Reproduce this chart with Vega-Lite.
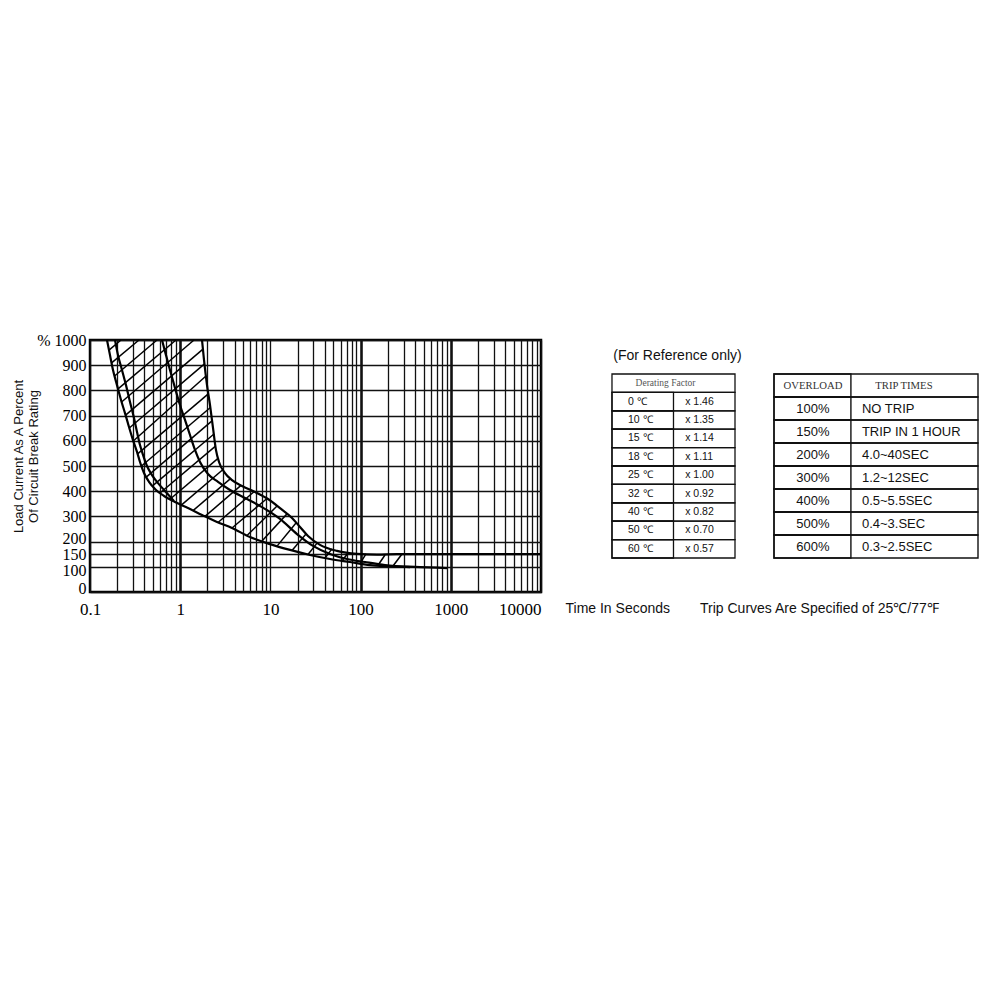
{
  "$schema": "https://vega.github.io/schema/vega-lite/v6.json",
  "background": "white",
  "padding": {"left": 10, "top": 330, "right": 5, "bottom": 5},
  "bounds": "flush",
  "center": true,
  "spacing": 39,
  "config": {
    "view": {"stroke": null},
    "font": "Liberation Sans",
    "title": {"fontWeight": "normal", "font": "Liberation Sans", "color": "#111"}
  },
  "datasets": {
    "curves": [
      {"curve": "A", "i": 0, "t": 0.1543, "v": 1000},
      {"curve": "A", "i": 1, "t": 0.1666, "v": 940},
      {"curve": "A", "i": 2, "t": 0.1799, "v": 881},
      {"curve": "A", "i": 3, "t": 0.1992, "v": 821},
      {"curve": "A", "i": 4, "t": 0.2207, "v": 762},
      {"curve": "A", "i": 5, "t": 0.2443, "v": 710},
      {"curve": "A", "i": 6, "t": 0.2706, "v": 655},
      {"curve": "A", "i": 7, "t": 0.2997, "v": 603},
      {"curve": "A", "i": 8, "t": 0.332, "v": 556},
      {"curve": "A", "i": 9, "t": 0.3584, "v": 516},
      {"curve": "A", "i": 10, "t": 0.3969, "v": 472},
      {"curve": "A", "i": 11, "t": 0.4509, "v": 437},
      {"curve": "A", "i": 12, "t": 0.5391, "v": 405},
      {"curve": "A", "i": 13, "t": 0.6612, "v": 381},
      {"curve": "A", "i": 14, "t": 0.8757, "v": 357},
      {"curve": "A", "i": 15, "t": 1.2205, "v": 333},
      {"curve": "A", "i": 16, "t": 1.745, "v": 306},
      {"curve": "A", "i": 17, "t": 2.559, "v": 278},
      {"curve": "A", "i": 18, "t": 3.752, "v": 254},
      {"curve": "A", "i": 19, "t": 5.94, "v": 218},
      {"curve": "A", "i": 20, "t": 9.9, "v": 190},
      {"curve": "A", "i": 21, "t": 16.5, "v": 167},
      {"curve": "A", "i": 22, "t": 27.48, "v": 147},
      {"curve": "A", "i": 23, "t": 45.8, "v": 131},
      {"curve": "A", "i": 24, "t": 76.3, "v": 119},
      {"curve": "A", "i": 25, "t": 127.2, "v": 107},
      {"curve": "A", "i": 26, "t": 211.8, "v": 103},
      {"curve": "A", "i": 27, "t": 455.6, "v": 99},
      {"curve": "A", "i": 28, "t": 907.8, "v": 95},
      {"curve": "B", "i": 0, "t": 0.1893, "v": 1000},
      {"curve": "B", "i": 1, "t": 0.2043, "v": 940},
      {"curve": "B", "i": 2, "t": 0.2263, "v": 881},
      {"curve": "B", "i": 3, "t": 0.2506, "v": 821},
      {"curve": "B", "i": 4, "t": 0.2777, "v": 754},
      {"curve": "B", "i": 5, "t": 0.3075, "v": 690},
      {"curve": "B", "i": 6, "t": 0.332, "v": 635},
      {"curve": "B", "i": 7, "t": 0.3584, "v": 583},
      {"curve": "B", "i": 8, "t": 0.387, "v": 544},
      {"curve": "B", "i": 9, "t": 0.4284, "v": 500},
      {"curve": "B", "i": 10, "t": 0.4869, "v": 464},
      {"curve": "B", "i": 11, "t": 0.5675, "v": 432},
      {"curve": "B", "i": 12, "t": 0.6785, "v": 401},
      {"curve": "B", "i": 13, "t": 0.8537, "v": 361},
      {"curve": "C", "i": 0, "t": 0.6284, "v": 1000},
      {"curve": "C", "i": 1, "t": 0.6959, "v": 940},
      {"curve": "C", "i": 2, "t": 0.7705, "v": 881},
      {"curve": "C", "i": 3, "t": 0.8757, "v": 810},
      {"curve": "C", "i": 4, "t": 0.9949, "v": 742},
      {"curve": "C", "i": 5, "t": 1.13, "v": 683},
      {"curve": "C", "i": 6, "t": 1.284, "v": 623},
      {"curve": "C", "i": 7, "t": 1.459, "v": 564},
      {"curve": "C", "i": 8, "t": 1.658, "v": 516},
      {"curve": "C", "i": 9, "t": 2.033, "v": 468},
      {"curve": "C", "i": 10, "t": 2.625, "v": 437},
      {"curve": "C", "i": 11, "t": 3.566, "v": 405},
      {"curve": "C", "i": 12, "t": 5.229, "v": 373},
      {"curve": "C", "i": 13, "t": 8.07, "v": 337},
      {"curve": "C", "i": 14, "t": 12.78, "v": 290},
      {"curve": "C", "i": 15, "t": 19.72, "v": 230},
      {"curve": "C", "i": 16, "t": 29.67, "v": 183},
      {"curve": "C", "i": 17, "t": 45.8, "v": 151},
      {"curve": "C", "i": 18, "t": 70.7, "v": 131},
      {"curve": "C", "i": 19, "t": 111.9, "v": 119},
      {"curve": "C", "i": 20, "t": 186.4, "v": 107},
      {"curve": "C", "i": 21, "t": 352.9, "v": 99},
      {"curve": "D", "i": 0, "t": 1.745, "v": 1000},
      {"curve": "D", "i": 1, "t": 1.836, "v": 921},
      {"curve": "D", "i": 2, "t": 1.982, "v": 821},
      {"curve": "D", "i": 3, "t": 2.14, "v": 742},
      {"curve": "D", "i": 4, "t": 2.31, "v": 651},
      {"curve": "D", "i": 5, "t": 2.494, "v": 563},
      {"curve": "D", "i": 6, "t": 2.693, "v": 516},
      {"curve": "D", "i": 7, "t": 3.139, "v": 472},
      {"curve": "D", "i": 8, "t": 3.752, "v": 444},
      {"curve": "D", "i": 9, "t": 4.843, "v": 421},
      {"curve": "D", "i": 10, "t": 6.751, "v": 397},
      {"curve": "D", "i": 11, "t": 9.406, "v": 369},
      {"curve": "D", "i": 12, "t": 12.78, "v": 333},
      {"curve": "D", "i": 13, "t": 17.36, "v": 294},
      {"curve": "D", "i": 14, "t": 21.29, "v": 258},
      {"curve": "D", "i": 15, "t": 26.12, "v": 222},
      {"curve": "D", "i": 16, "t": 35.46, "v": 187},
      {"curve": "D", "i": 17, "t": 54.74, "v": 163},
      {"curve": "D", "i": 18, "t": 91.2, "v": 151},
      {"curve": "D", "i": 19, "t": 152, "v": 148},
      {"curve": "D", "i": 20, "t": 253.2, "v": 150},
      {"curve": "D", "i": 21, "t": 10000, "v": 150}
    ],
    "hatch": [
      {"t": 0.1624, "v": 960, "t2": 0.2207, "v2": 1000},
      {"t": 0.1736, "v": 909, "t2": 0.3493, "v2": 1000},
      {"t": 0.1874, "v": 857, "t2": 0.553, "v2": 1000},
      {"t": 0.2048, "v": 806, "t2": 0.8984, "v2": 1000},
      {"t": 0.224, "v": 754, "t2": 1.422, "v2": 1000},
      {"t": 0.2481, "v": 702, "t2": 1.789, "v2": 964},
      {"t": 0.2727, "v": 651, "t2": 1.859, "v2": 905},
      {"t": 0.302, "v": 599, "t2": 1.932, "v2": 857},
      {"t": 0.3371, "v": 548, "t2": 2.049, "v2": 786},
      {"t": 0.3724, "v": 500, "t2": 2.161, "v2": 732},
      {"t": 0.4199, "v": 456, "t2": 2.252, "v2": 679},
      {"t": 0.4932, "v": 421, "t2": 2.37, "v2": 627},
      {"t": 0.5972, "v": 393, "t2": 2.463, "v2": 579},
      {"t": 0.7705, "v": 368, "t2": 2.625, "v2": 530},
      {"t": 1.021, "v": 344, "t2": 2.983, "v2": 486},
      {"t": 1.387, "v": 323, "t2": 3.611, "v2": 450},
      {"t": 1.884, "v": 300, "t2": 4.722, "v2": 423},
      {"t": 2.625, "v": 276, "t2": 6.58, "v2": 398},
      {"t": 3.752, "v": 254, "t2": 9.17, "v2": 371},
      {"t": 5.504, "v": 224, "t2": 11.84, "v2": 341},
      {"t": 8.07, "v": 202, "t2": 15.28, "v2": 310},
      {"t": 11.84, "v": 182, "t2": 19.22, "v2": 274},
      {"t": 17.36, "v": 165, "t2": 24.81, "v2": 230},
      {"t": 26.12, "v": 149, "t2": 32.86, "v2": 194},
      {"t": 40.3, "v": 135, "t2": 48.2, "v2": 171},
      {"t": 62.2, "v": 123, "t2": 72.5, "v2": 155},
      {"t": 98.5, "v": 113, "t2": 114.8, "v2": 151},
      {"t": 155.9, "v": 106, "t2": 186.4, "v2": 147},
      {"t": 228.7, "v": 103, "t2": 287.7, "v2": 151}
    ],
    "derating": [
      {"kind": "head", "temp": "Derating Factor", "factor": ""},
      {"kind": "body", "temp": "0 ℃", "factor": "x 1.46"},
      {"kind": "body", "temp": "10 ℃", "factor": "x 1.35"},
      {"kind": "body", "temp": "15 ℃", "factor": "x 1.14"},
      {"kind": "body", "temp": "18 ℃", "factor": "x 1.11"},
      {"kind": "body", "temp": "25 ℃", "factor": "x 1.00"},
      {"kind": "body", "temp": "32 ℃", "factor": "x 0.92"},
      {"kind": "body", "temp": "40 ℃", "factor": "x 0.82"},
      {"kind": "body", "temp": "50 ℃", "factor": "x 0.70"},
      {"kind": "body", "temp": "60 ℃", "factor": "x 0.57"}
    ],
    "overload": [
      {"kind": "head", "load": "OVERLOAD", "trip": "TRIP TIMES"},
      {"kind": "body", "load": "100%", "trip": "NO TRIP"},
      {"kind": "body", "load": "150%", "trip": "TRIP IN 1 HOUR"},
      {"kind": "body", "load": "200%", "trip": "4.0~40SEC"},
      {"kind": "body", "load": "300%", "trip": "1.2~12SEC"},
      {"kind": "body", "load": "400%", "trip": "0.5~5.5SEC"},
      {"kind": "body", "load": "500%", "trip": "0.4~3.SEC"},
      {"kind": "body", "load": "600%", "trip": "0.3~2.5SEC"}
    ]
  },
  "hconcat": [
    {
      "width": 451,
      "height": 252,
      "view": {"stroke": "black", "strokeWidth": 2.5},
      "encoding": {
        "x": {
          "field": "t",
          "type": "quantitative",
          "scale": {"type": "log", "domain": [0.1, 10000], "nice": false},
          "axis": {
            "values": [0.1, 0.2, 0.3, 0.4, 0.5, 0.6, 0.7, 0.8, 0.9, 1, 2, 3, 4, 5, 6, 7, 8, 9, 10, 20, 30, 40, 50, 60, 70, 80, 90, 100, 200, 300, 400, 500, 600, 700, 800, 900, 1000, 2000, 3000, 4000, 5000, 6000, 7000, 8000, 9000, 10000],
            "title": "Time In Seconds",
            "titleX": 475,
            "titleY": 16,
            "titleAlign": "left",
            "titleBaseline": "middle",
            "titleFont": "Liberation Sans",
            "titleFontSize": 14,
            "titleFontWeight": "normal",
            "titleColor": "#111",
            "grid": true,
            "gridColor": "#111",
            "gridOpacity": 1,
            "gridWidth": {"condition": {"test": "datum.value == 1 || datum.value == 100 || datum.value == 1000", "value": 2.6}, "value": 1.3},
            "domain": false,
            "ticks": false,
            "labelFont": "Liberation Serif",
            "labelFontSize": 17,
            "labelColor": "black",
            "labelPadding": 9,
            "labelOverlap": false,
            "labelFlush": false,
            "labelBound": false,
            "labelAlign": {"condition": {"test": "datum.value >= 10000", "value": "right"}, "value": "center"},
            "labelExpr": "indexof([0.1, 1, 10, 100, 1000, 10000], datum.value) >= 0 ? format(datum.value, '~g') : ''"
          }
        },
        "y": {
          "field": "v",
          "type": "quantitative",
          "scale": {"domain": [0, 1000], "nice": false},
          "axis": {
            "values": [0, 100, 150, 200, 300, 400, 500, 600, 700, 800, 900, 1000],
            "title": ["Load Current As A Percent", "Of Circuit Break Rating"],
            "titleX": -72,
            "titleY": 116,
            "titleAngle": -90,
            "titleAlign": "center",
            "titleBaseline": "middle",
            "titleLineHeight": 15,
            "titleFont": "Liberation Sans",
            "titleFontSize": 13,
            "titleFontWeight": "normal",
            "titleColor": "#111",
            "grid": true,
            "gridColor": "#111",
            "gridOpacity": 1,
            "gridWidth": 1.3,
            "domain": false,
            "ticks": false,
            "labelFont": "Liberation Serif",
            "labelFontSize": 16,
            "labelColor": "black",
            "labelPadding": 4,
            "labelOverlap": false,
            "labelFlush": false,
            "labelBound": false,
            "labelOffset": {"condition": [
              {"test": "datum.value == 100", "value": 4},
              {"test": "datum.value == 200", "value": -3},
              {"test": "datum.value == 0", "value": -4}
            ], "value": 0},
            "labelExpr": "datum.value == 1000 ? '% 1000' : datum.label"
          }
        }
      },
      "layer": [
        {
          "data": {"name": "curves"},
          "mark": {"type": "line", "stroke": "black", "strokeWidth": 2.2, "interpolate": "monotone"},
          "encoding": {
            "detail": {"field": "curve"},
            "order": {"field": "i", "type": "quantitative"}
          }
        },
        {
          "data": {"name": "hatch"},
          "mark": {"type": "rule", "stroke": "black", "strokeWidth": 1.5},
          "encoding": {
            "x2": {"field": "t2"},
            "y2": {"field": "v2"}
          }
        }
      ]
    },
    {
      "width": 155,
      "height": 184,
      "data": {"name": "derating"},
      "title": {"text": "(For Reference only)", "orient": "top", "anchor": "middle", "frame": "group", "dx": 20, "offset": -4, "baseline": "bottom", "fontSize": 14, "font": "Liberation Sans", "fontWeight": "normal", "color": "#111"},
      "encoding": {
        "y": {"field": "temp", "type": "ordinal", "sort": null, "scale": {"paddingInner": 0, "paddingOuter": 0}, "axis": null}
      },
      "layer": [
        {
          "mark": {"type": "rect", "fillOpacity": 0, "stroke": "#111", "strokeWidth": 1.3},
          "encoding": {
            "x": {"datum": 0, "type": "quantitative", "scale": {"domain": [-0.52, 2], "nice": false, "zero": false}, "axis": null},
            "x2": {"datum": 2}
          }
        },
        {
          "transform": [{"filter": "datum.kind == 'body'"}],
          "mark": {"type": "rect", "fillOpacity": 0, "stroke": "#111", "strokeWidth": 1.3},
          "encoding": {
            "x": {"datum": 0, "type": "quantitative", "scale": {"domain": [-0.52, 2], "nice": false, "zero": false}, "axis": null},
            "x2": {"datum": 1}
          }
        },
        {
          "transform": [{"filter": "datum.kind == 'head'"}],
          "mark": {"type": "text", "align": "center", "baseline": "middle", "font": "Liberation Serif", "fontSize": 9.5, "color": "#555"},
          "encoding": {
            "x": {"datum": 0.87, "type": "quantitative", "scale": {"domain": [-0.52, 2], "nice": false, "zero": false}, "axis": null},
            "text": {"field": "temp"}
          }
        },
        {
          "transform": [{"filter": "datum.kind == 'body'"}],
          "mark": {"type": "text", "align": "left", "baseline": "middle", "font": "Liberation Sans", "fontSize": 10.5, "color": "#111"},
          "encoding": {
            "x": {"datum": 0.26, "type": "quantitative", "scale": {"domain": [-0.52, 2], "nice": false, "zero": false}, "axis": null},
            "text": {"field": "temp"}
          }
        },
        {
          "transform": [{"filter": "datum.kind == 'body'"}],
          "mark": {"type": "text", "align": "left", "baseline": "middle", "font": "Liberation Sans", "fontSize": 10.5, "color": "#111"},
          "encoding": {
            "x": {"datum": 1.19, "type": "quantitative", "scale": {"domain": [-0.52, 2], "nice": false, "zero": false}, "axis": null},
            "text": {"field": "factor"}
          }
        }
      ]
    },
    {
      "width": 204,
      "height": 184,
      "data": {"name": "overload"},
      "title": {"text": "Trip Curves Are Specified of 25℃/77℉", "orient": "bottom", "anchor": "start", "frame": "group", "dx": -74, "offset": 43, "baseline": "top", "fontSize": 14, "font": "Liberation Sans", "fontWeight": "normal", "color": "#111"},
      "encoding": {
        "y": {"field": "load", "type": "ordinal", "sort": null, "scale": {"paddingInner": 0, "paddingOuter": 0}, "axis": null}
      },
      "layer": [
        {
          "mark": {"type": "rect", "fillOpacity": 0, "stroke": "#111", "strokeWidth": 1.4},
          "encoding": {
            "x": {"datum": 0, "type": "quantitative", "scale": {"domain": [0, 1], "nice": false, "zero": false}, "axis": null},
            "x2": {"datum": 1}
          }
        },
        {
          "mark": {"type": "rect", "fillOpacity": 0, "stroke": "#111", "strokeWidth": 1.4},
          "encoding": {
            "x": {"datum": 0, "type": "quantitative", "scale": {"domain": [0, 1], "nice": false, "zero": false}, "axis": null},
            "x2": {"datum": 0.377}
          }
        },
        {
          "transform": [{"filter": "datum.kind == 'head'"}],
          "mark": {"type": "text", "align": "center", "baseline": "middle", "font": "Liberation Serif", "fontSize": 10.7, "color": "#333"},
          "encoding": {
            "x": {"datum": 0.191, "type": "quantitative", "scale": {"domain": [0, 1], "nice": false, "zero": false}, "axis": null},
            "text": {"field": "load"}
          }
        },
        {
          "transform": [{"filter": "datum.kind == 'head'"}],
          "mark": {"type": "text", "align": "center", "baseline": "middle", "font": "Liberation Serif", "fontSize": 10.7, "color": "#333"},
          "encoding": {
            "x": {"datum": 0.637, "type": "quantitative", "scale": {"domain": [0, 1], "nice": false, "zero": false}, "axis": null},
            "text": {"field": "trip"}
          }
        },
        {
          "transform": [{"filter": "datum.kind == 'body'"}],
          "mark": {"type": "text", "align": "center", "baseline": "middle", "font": "Liberation Sans", "fontSize": 13, "color": "#111"},
          "encoding": {
            "x": {"datum": 0.191, "type": "quantitative", "scale": {"domain": [0, 1], "nice": false, "zero": false}, "axis": null},
            "text": {"field": "load"}
          }
        },
        {
          "transform": [{"filter": "datum.kind == 'body'"}],
          "mark": {"type": "text", "align": "left", "baseline": "middle", "font": "Liberation Sans", "fontSize": 13, "color": "#111"},
          "encoding": {
            "x": {"datum": 0.431, "type": "quantitative", "scale": {"domain": [0, 1], "nice": false, "zero": false}, "axis": null},
            "text": {"field": "trip"}
          }
        }
      ]
    }
  ]
}
